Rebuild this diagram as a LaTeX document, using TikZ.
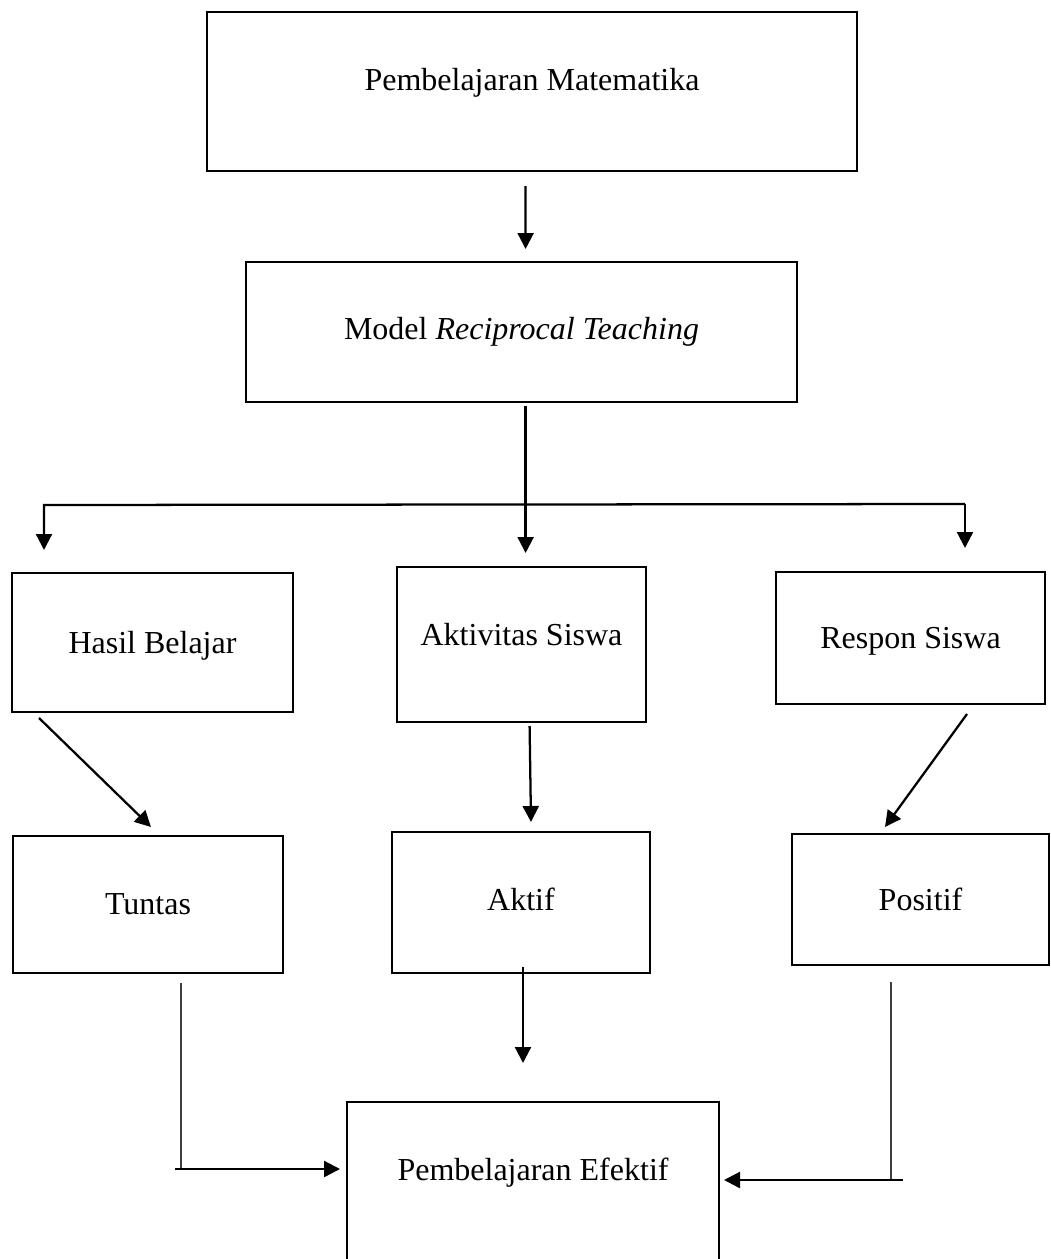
\documentclass[tikz,border=0pt]{standalone}
\usepackage{fontspec}
\setmainfont{Liberation Serif}
\usetikzlibrary{arrows.meta}
\tikzset{
  box/.style={draw, line width=1pt, inner sep=0pt, outer sep=0pt,
    font=\fontsize{12}{14}\selectfont},
  link/.style={-{Triangle[length=6pt,width=6pt]}, line width=0.85pt},
  feed/.style={line width=0.55pt, black!75}
}
\begin{document}
\begin{tikzpicture}[x=0.375pt, y=-0.375pt]
  \def\px{0.375pt}
  \path[use as bounding box] (0,0) rectangle (1051,1259);
  \clip (0,0) rectangle (1051,1259);

  \node[box, minimum width={650*\px}, minimum height={159*\px}, text depth=9pt] (pm) at (532,91.5) {Pembelajaran Matematika};
  \node[box, minimum width={551*\px}, minimum height={140*\px}] (mrt) at (521.5,332) {Model \textit{Reciprocal Teaching}};

  \node[box, minimum width={281*\px}, minimum height={139*\px}, text depth=0pt] (hb) at (152.5,642.5) {Hasil Belajar};
  \node[box, minimum width={249*\px}, minimum height={155*\px}, text depth=7.4pt] (as) at (521.5,644.5) {Aktivitas Siswa};
  \node[box, minimum width={269*\px}, minimum height={132*\px}, text depth=0pt] (rs) at (910.5,638) {Respon Siswa};

  \node[box, minimum width={270*\px}, minimum height={137*\px}] (tuntas) at (148,904.5) {Tuntas};
  \node[box, minimum width={258*\px}, minimum height={141*\px}, text depth=2.6pt] (aktif) at (521,902.5) {Aktif};
  \node[box, minimum width={257*\px}, minimum height={131*\px}] (positif) at (920.5,899.5) {Positif};

  \node[box, minimum width={372*\px}, minimum height={178*\px}, text depth=16.4pt] (pe) at (533,1191) {Pembelajaran Efektif};

  \coordinate (bl) at (44,505);
  \coordinate (br) at (965,504);
  \coordinate (tl) at (181,1169);
  \coordinate (tr) at (891,1180);

  \draw[link, shorten <={15*\px}, shorten >={13*\px}] ([xshift=-6.4*\px]pm.south) -- ([xshift=4.1*\px]mrt.north);
  \draw[link, shorten <={4*\px}, shorten >={14*\px}] ([xshift=4.1*\px]mrt.south) -- ([xshift=4.1*\px]as.north);

  \draw[link, shorten >={23*\px}] (br) -- (bl) -- (bl |- hb.north);
  \draw[link, shorten >={24*\px}] (br) -- (br |- rs.north);

  \draw[link] ([xshift=27*\px, yshift=-6*\px]hb.south west) -- ([xshift=3*\px, yshift=9*\px]tuntas.north);
  \draw[link] ([xshift=8.1*\px, yshift=-4*\px]as.south) -- ([xshift=10*\px, yshift=10*\px]aktif.north);
  \draw[link] ([xshift=56.5*\px, yshift=-10*\px]rs.south) -- ([xshift=-35.5*\px, yshift=7*\px]positif.north);

  \draw[link] ([xshift=2*\px, yshift=6*\px]aktif.south) -- ([xshift=-10*\px, yshift=39*\px]pe.north);

  \draw[feed] ([xshift=33*\px, yshift=-10*\px]tuntas.south) -- (tl);
  \draw[link, shorten >={7*\px}] ([xshift=-6*\px]tl) -- (tl -| pe.west);

  \draw[feed] ([xshift=-29.5*\px, yshift=-17*\px]positif.south) -- (tr);
  \draw[link, shorten >={5*\px}] ([xshift=12*\px]tr) -- (tr -| pe.east);
\end{tikzpicture}
\end{document}
